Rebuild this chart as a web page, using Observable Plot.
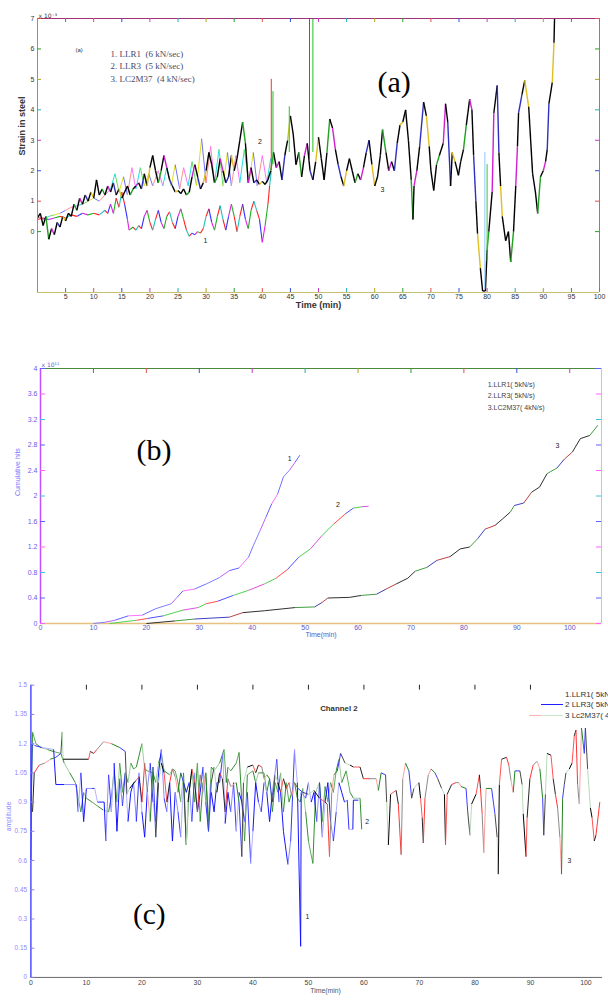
<!DOCTYPE html>
<html><head><meta charset="utf-8">
<script src="https://cdn.jsdelivr.net/npm/d3@7"></script>
<script src="https://cdn.jsdelivr.net/npm/@observablehq/plot@0.6"></script>
<style>
body{margin:0;background:#fff;width:608px;height:1003px;overflow:hidden;position:relative;font-family:'Liberation Sans',Arial,sans-serif;}
.panel{position:absolute;left:0;}
.leg{position:absolute;font-size:8px;color:#333;white-space:nowrap;line-height:10px;}
.leg span.s{display:inline-block;width:22px;height:0;vertical-align:middle;margin-right:2px;}
</style></head><body>
<div id="pa" class="panel" style="top:0"></div>
<div id="pb" class="panel" style="top:330px"></div>
<div id="pc" class="panel" style="top:670px"></div>
<div class="leg" style="left:565px;top:690px">1.LLR1( 5kN/s)</div>
<div class="leg" style="left:541px;top:700px"><span class="s" style="border-top:1px solid #2020ff"></span>2 LLR3( 5kN/s)</div>
<div class="leg" style="left:541px;top:711px"><span class="s" style="border-top:1px solid #c8e8c8;box-shadow:-12px 0 0 -0px #ffb0b0"></span>3 Lc2M37( 4kN/s)</div>
<script>
// ---------------- Panel (a): strain in steel (x 10^-3) vs time (min) ----------------
const aXTicks = [5,10,15,20,25,30,35,40,45,50,55,60,65,70,75,80,85,90,95,100];
const aYTicks = [0,1,2,3,4,5,6,7];
const aDomX = [0,100];
const aDomY = [-2,7];

const strainLLR1 = [[0,0.4],[1,0.45],[2,0.4],[3,0.45],[4,0.5],[5,0.45],[6,0.55],[7,0.5],[8,0.6],[9,0.55],[10,0.6],[11,0.55],[12,0.7],[12.5,0.6],[13,0.9],[13.5,0.6],[14,1.1],[14.5,0.8],[15,1.3],[15.5,0.9],[16,0.4],[16.3,0.05],[17,0.15],[17.5,0.05],[18,0.2],[18.5,0.1],[19,0.5],[19.5,0.7],[20,0.3],[20.5,0.05],[21,0.4],[21.5,0.7],[22,0.3],[22.5,0.1],[23,0.5],[23.5,0.65],[24,0.3],[24.5,0.1],[25,0.5],[25.5,0.75],[26,0.4],[26.5,0.05],[27,-0.15],[27.5,-0.05],[28,-0.1],[28.5,0.0],[29,-0.05],[29.5,0.1],[30,0.5],[30.5,0.75],[31,0.3],[31.5,0.05],[32,0.5],[32.5,0.85],[33,0.4],[33.5,0.05],[34,0.5],[34.5,0.9],[35,0.5],[35.5,0.0],[36,0.5],[36.5,0.9],[37,0.4],[37.5,0.1],[38,0.7],[38.5,1.0],[39,0.7],[39.5,0.4],[40,-0.35],[40.5,0.2],[41,0.9],[41.3,1.5],[41.6,2.0]];
const strainLLR3 = [[0,0.5],[1,0.4],[2,0.5],[3,0.55],[4,0.6],[5,0.7],[6,0.8],[7,0.85],[8,0.9],[9,1.0],[10,1.1],[11,1.0],[12,1.2],[13,1.4],[13.8,1.9],[14.5,1.3],[15.3,1.8],[16,1.2],[16.8,2.1],[17.5,1.4],[18.3,2.1],[19,1.5],[19.8,1.9],[20.5,1.5],[21.5,2.0],[22.3,1.5],[23,2.1],[23.8,1.5],[24.5,2.2],[25.3,1.4],[26,2.1],[26.8,1.5],[27.5,2.3],[28.3,1.5],[29.2,3.05],[30,1.6],[30.8,2.8],[31.5,1.6],[32.3,2.7],[33,1.5],[33.8,2.6],[34.5,1.5],[35.3,2.5],[36,1.6],[36.8,2.7],[37.6,1.6],[38.4,2.6],[39.1,1.5],[40,2.5],[40.8,1.6],[41.5,2.4]];
const strainLC2M37 = [[0,0.45],[0.5,0.6],[1,0.2],[1.5,0.5],[2,-0.25],[2.5,0.1],[3,-0.1],[3.5,0.3],[4,0.15],[4.5,0.5],[5,0.35],[5.5,0.6],[6,0.5],[6.5,0.9],[7,0.7],[7.5,1.1],[8,0.9],[8.5,1.2],[9,1.0],[9.5,1.3],[10,1.1],[10.5,1.7],[11,1.2],[11.5,1.4],[12,1.2],[12.5,1.5],[13,1.3],[13.5,1.6],[14,1.2],[14.5,1.4],[15,1.1],[15.5,1.3],[16,1.5],[16.5,1.2],[17,1.4],[17.5,1.5],[18,1.6],[18.5,1.4],[19,1.9],[19.5,1.5],[20,2.1],[20.5,2.5],[21,2.0],[21.5,1.6],[22,2.0],[22.5,2.5],[23,2.1],[23.5,1.7],[24,1.5],[24.5,1.3],[25,1.35],[25.5,1.25],[26,1.4],[26.5,1.2],[27,1.3],[27.5,1.8],[28,2.2],[28.5,1.8],[29,1.4],[29.5,1.6],[30,2.0],[30.5,2.6],[31,2.2],[31.5,1.6],[32,1.8],[32.5,2.4],[33,2.0],[33.5,1.6],[34,1.8],[34.5,2.5],[35,2.0],[35.5,2.4],[36,3.0],[36.5,3.6],[37,2.9],[37.5,1.6],[38,2.1],[38.5,1.6],[39,1.7],[39.5,1.55],[40,1.65],[40.5,1.55],[41,1.7],[41.5,2.0],[42,2.6],[42.5,2.1],[43,2.3],[43.5,1.7],[44,2.5],[44.5,3.0],[45,3.8],[45.5,3.2],[46,2.2],[46.5,2.6],[47,1.8],[47.5,2.5],[48,2.9],[48.5,2.0],[49,1.7],[49.5,2.3],[50,3.1],[50.5,2.4],[51,1.7],[51.5,2.6],[52,3.7],[52.5,3.4],[53,2.7],[53.5,2.2],[54,1.8],[54.5,1.5],[55,2.0],[55.5,2.4],[56,2.0],[56.5,1.6],[57,1.9],[57.5,1.7],[58,2.1],[58.5,2.6],[59,3.0],[59.5,2.2],[60,1.5],[60.5,1.8],[61,2.5],[61.4,3.35],[62,2.6],[62.5,2.0],[63,2.3],[63.5,2.0],[64,2.9],[64.5,3.5],[65,3.6],[65.5,4.0],[66,3.0],[66.5,1.7],[66.8,0.4],[67,1.5],[67.5,2.0],[68,2.8],[68.7,4.25],[69.2,3.8],[69.7,2.8],[70,2.0],[70.5,1.35],[71,2.2],[71.5,2.5],[72.2,2.9],[72.6,4.2],[73,3.6],[73.5,1.5],[73.8,2.6],[74.3,2.3],[74.9,1.85],[75.3,2.3],[75.8,2.7],[76.3,3.5],[76.9,4.35],[77.3,4.0],[77.6,2.5],[78,1.0],[78.3,-0.07],[78.8,-1.2],[79.2,-1.95],[79.7,-1.95],[80,-0.6],[80.3,0],[80.9,1.3],[81.2,3.9],[81.8,4.8],[82.1,2.6],[82.4,1.5],[82.7,0.5],[83.3,-0.3],[83.8,0],[84.2,-1.0],[84.7,0],[85.1,1.5],[85.4,2.8],[85.6,3.9],[86.2,4.5],[86.7,4.97],[87.4,4.1],[88.1,1.9],[88.6,1.3],[89,0.6],[89.5,1.8],[90,2.0],[90.4,2.3],[90.7,2.7],[91,4.2],[91.6,4.9],[91.9,6.2],[92,7.0]];
const strainSpikes = [
  {t:41.6, from:2.0, to:5.0, c:"#ff3030"},
  {t:41.9, from:2.2, to:4.6, c:"#30c030"},
  {t:44.8, from:2.6, to:4.1, c:"#30c030"},
  {t:48.4, from:2.3, to:7.0, c:"#ff2020"},
  {t:49.0, from:2.6, to:7.0, c:"#20c020"},
  {t:79.6, from:-1.9, to:2.6, c:"#90c8ff"},
  {t:80.0, from:-1.0, to:2.2, c:"#40c040"}
];
const aCurveLabels = [{t:29.9, v:-0.3, s:"1"}, {t:39.6, v:2.95, s:"2"}, {t:61.4, v:1.38, s:"3"}];
const aLegend = [{t:13, v:5.82, s:"1. LLR1\u00a0\u00a0(6 kN/sec)"}, {t:13, v:5.45, s:"2. LLR3\u00a0\u00a0(5 kN/sec)"}, {t:13, v:5.0, s:"3. LC2M37\u00a0\u00a0(4 kN/sec)"}];

// ---------------- Panel (b): cumulative hits (x 10^11) vs time (min) ----------------
const bXTicks = [0,10,20,30,40,50,60,70,80,90,100];
const bYTicks = [0,0.4,0.8,1.2,1.6,2,2.4,2.8,3.2,3.6,4];
const bDomX = [0,106];
const bDomY = [0,4];
const hitsLLR1 = [[10,0],[12.2,0.02],[14,0.05],[16.6,0.12],[19.2,0.13],[21.7,0.23],[24.7,0.31],[25.8,0.41],[26.9,0.51],[29.1,0.54],[31.3,0.62],[33.8,0.72],[35.7,0.83],[37.5,0.87],[39.3,1.04],[40.1,1.2],[41.5,1.46],[42.6,1.67],[43.7,1.88],[44.8,2.03],[45.9,2.3],[47,2.4],[48.1,2.53],[49,2.64]];
const hitsLLR3 = [[13,0],[18.1,0.05],[20.3,0.08],[23.2,0.12],[26.9,0.21],[29.8,0.25],[31.3,0.31],[33.5,0.35],[36.4,0.44],[39.3,0.52],[42.3,0.62],[44.5,0.71],[46.7,0.85],[48.8,1.04],[51,1.17],[53.2,1.38],[55.4,1.56],[57.6,1.72],[59.1,1.81],[60.6,1.83],[62,1.84]];
const hitsLC2M37 = [[20,0],[25.4,0.04],[29.1,0.07],[35.7,0.1],[38.2,0.17],[42.3,0.2],[48.1,0.25],[51.8,0.26],[53.2,0.33],[54.3,0.4],[58.4,0.41],[60.6,0.44],[63.5,0.46],[65.3,0.54],[67.2,0.62],[69.4,0.71],[70.8,0.82],[73,0.88],[74.9,0.99],[77.4,1.05],[79.3,1.17],[81.1,1.2],[82.6,1.33],[84,1.48],[85.9,1.54],[87.3,1.64],[88.8,1.75],[89.5,1.85],[91.3,1.89],[92.8,2.06],[94.3,2.14],[95.7,2.35],[97.6,2.44],[99,2.58],[100.5,2.69],[102,2.9],[103.8,2.95],[105.3,3.11]];
const bCurveLabels = [{t:47.1, v:2.59, s:"1"}, {t:56.2, v:1.87, s:"2"}, {t:97.7, v:2.79, s:"3"}];
const bLegend = [{t:84.5, v:3.75, s:"1.LLR1( 5kN/s)"}, {t:84.5, v:3.58, s:"2.LLR3( 5kN/s)"}, {t:84.5, v:3.39, s:"3.LC2M37( 4kN/s)"}];

// ---------------- Panel (c): amplitude vs time (min), Channel 2 ----------------
const cXTicks = [0,10,20,30,40,50,60,70,80,90,100];
const cTopTicks = [10,20,30,40,50,60,70,80,90];
const cYTicks = [0,0.15,0.3,0.45,0.6,0.75,0.9,1.05,1.2,1.35,1.5];
const cDomX = [0,103];
const cDomY = [0,1.5];
const ampLLR1 = [[0,0.6],[0.2,1.2],[0.7,1.19],[2,1.18],[4.1,1.17],[4.5,0.99],[6,0.99],[8.2,0.99],[8.5,0.85],[9,1.05],[9.5,0.8],[10,0.97],[11,0.97],[11.5,0.97],[12,0.9],[13.2,0.9],[13.5,0.7],[14,1.04],[14.5,0.85],[15,1.1],[15.5,0.75],[16,1.02],[16.5,0.88],[17,1.05],[17.5,0.8],[18,0.95],[18.5,1.0],[19,0.8],[19.5,1.05],[20,0.85],[20.5,0.72],[21,0.97],[21.5,1.1],[22,0.9],[22.5,0.8],[23,1.05],[23.5,1.17],[24,0.92],[24.5,0.85],[25,1.0],[25.5,0.7],[26,0.95],[26.5,0.85],[27,0.72],[27.5,1.0],[28,0.95],[28.5,1.0],[29,0.8],[29.5,1.05],[30,0.85],[30.5,0.95],[31,1.08],[31.5,0.9],[32,0.75],[32.5,0.95],[33,0.85],[33.5,1.0],[34,1.0],[34.6,1.15],[35,0.79],[35.5,0.95],[36,0.85],[36.5,1.0],[37,0.75],[37.5,0.95],[38,0.9],[38.5,0.8],[39,0.95],[39.6,0.585],[40,0.75],[40.5,1.0],[41,0.9],[41.5,0.85],[42,1.0],[42.5,0.95],[43,0.8],[43.5,0.95],[44.3,1.12],[44.7,0.9],[45,0.95],[45.5,0.75],[46.3,0.58],[46.8,0.7],[47.5,1.17],[48,1.0],[48.6,0.16],[48.7,0.95],[49.5,0.92],[50,1.0],[50.5,0.9],[51,0.95],[51.5,0.8],[52,1.0],[52.5,0.72],[53,0.9],[53.5,1.0],[54,0.8],[54.5,0.7],[55,0.85],[55.5,1.0],[56,0.95],[56.5,0.9],[57,0.91],[57.3,0.76],[58,0.76],[58.1,0.91],[59,0.91]];
const ampLLR3 = [[0,0.85],[0.3,1.26],[0.9,1.2],[1.8,1.18],[3,1.17],[4,1.16],[5.4,1.15],[6,1.1],[7,1.05],[8,1.0],[9,0.85],[9.5,0.95],[10,0.92],[11,0.9],[12,0.88],[13,0.86],[14,0.85],[14.5,0.93],[15,1.06],[15.5,0.9],[16,1.1],[16.5,0.95],[17,1.05],[17.5,1.0],[18,1.1],[18.5,1.07],[19,1.08],[20,1.2],[20.5,1.07],[21,1.06],[22,1.05],[22.5,1.0],[23,1.1],[23.5,1.15],[24,1.06],[25,1.04],[25.5,1.07],[26,1.06],[26.5,1.0],[27,0.9],[27.5,1.05],[28,0.68],[28.5,0.95],[29,1.06],[29.5,0.9],[30,1.1],[30.5,0.8],[31,1.0],[31.5,1.05],[32,0.8],[32.5,1.08],[33,1.06],[34,1.1],[34.8,1.17],[35.2,1.0],[35.5,1.08],[36,1.06],[37,1.1],[37.5,1.155],[38,0.9],[38.5,0.7],[39,1.04],[40,1.06],[40.5,1.0],[41,1.05],[42,1.05],[42.5,0.95],[43,1.02],[43.5,0.85],[44,1.0],[44.5,0.95],[45,1.05],[45.5,0.85],[46,1.0],[46.5,0.9],[47,0.95],[47.5,1.0],[48,0.92],[48.5,0.9],[49,0.97],[49.5,0.85],[50,0.7],[50.8,0.585],[51.3,0.95],[52,1.0],[52.5,0.8],[53,0.98],[53.5,0.9],[54,1.0],[54.5,0.95],[55,1.06],[55.5,1.12],[56,1.0],[56.8,1.06],[57.5,0.95],[58.1,0.92],[59.3,0.92],[59.6,0.76]];
const ampLC2M37 = [[0.3,0.85],[0.6,1.05],[1.5,1.09],[2.5,1.1],[3.5,1.12],[4.5,1.13],[5.4,1.15],[5.65,1.26],[5.8,1.12],[10.4,1.12],[10.7,1.16],[11.3,1.15],[11.9,1.17],[13.1,1.21],[14.5,1.2],[16,1.18],[17,1.16],[17.3,0.94],[17.8,0.97],[18.9,1.01],[19.5,1.03],[20,0.9],[20.5,1.1],[21,0.95],[21.5,0.8],[22,1.08],[22.5,0.72],[23,1.0],[23.5,1.1],[24,1.05],[24.5,0.9],[25,1.0],[25.5,1.07],[26,1.03],[26.5,0.95],[27,1.05],[27.5,1.0],[28,0.68],[28.3,0.9],[29,1.07],[29.5,1.0],[30,0.85],[30.5,1.04],[31,0.95],[31.5,1.05],[32,0.75],[32.5,1.0],[33,1.08],[33.5,0.95],[34,1.05],[34.5,1.02],[35,0.85],[35.5,1.02],[36,0.98],[37,1.0],[37.5,0.9],[38,0.62],[38.3,1.0],[39,1.08],[40,1.09],[40.5,1.05],[41,1.09],[41.6,1.08],[42,1.02],[42.5,1.04],[43,1.02],[43.5,0.9],[44,1.04],[44.5,1.0],[45,0.95],[45.5,1.02],[46,0.97],[46.5,1.0],[47,0.93],[47.5,1.0],[48.1,0.97],[49,0.95],[50,0.94],[51,0.96],[52,0.92],[53,0.9],[53.4,0.89],[53.8,0.62],[54.2,0.95],[54.6,1.04],[55.2,1.06],[55.8,1.15],[56.6,1.1],[57.5,1.09],[58.1,1.08],[59.3,1.08],[59.9,1.02],[61.1,1.02],[62.2,1.02],[62.6,0.96],[63.1,1.05],[63.9,1.04],[64.1,0.9],[64.4,0.68],[64.8,0.94],[65.8,0.96],[66.2,0.89],[66.7,0.63],[67,1.02],[67.5,1.1],[68.1,1.06],[68.6,0.92],[69,0.97],[69.9,1.0],[70.2,0.92],[70.5,0.82],[70.7,0.69],[71,0.92],[71.6,1.04],[72.1,1.07],[72.8,1.05],[73.3,1.02],[74,0.97],[74.5,0.94],[74.7,0.68],[75,0.94],[75.8,0.99],[76.6,1.0],[77.1,1.0],[77.5,0.98],[78.4,0.97],[78.7,0.85],[79.1,0.73],[79.4,0.89],[80.2,0.94],[80.8,1.04],[81,0.97],[81.3,0.84],[81.6,0.64],[82,0.97],[83,0.97],[83.6,0.84],[84,0.72],[84.2,0.53],[84.4,0.99],[84.8,1.12],[85.7,1.13],[86.1,1.09],[86.5,1.01],[86.9,0.95],[87.2,1.06],[88.1,1.06],[88.5,0.99],[88.7,0.84],[89.2,0.62],[89.4,0.82],[89.9,1.02],[90.5,1.09],[91.2,1.11],[91.7,1.07],[92.2,0.92],[92.4,0.73],[92.7,0.94],[93,1.15],[93.7,1.14],[94.1,1.02],[94.5,0.94],[94.9,0.87],[95.3,0.72],[95.6,0.53],[95.8,0.92],[96.1,0.99],[96.4,1.05],[97,1.07],[97.5,1.1],[97.9,1.24],[98.2,1.27],[98.5,0.99],[98.8,0.89],[99.2,1.28],[99.7,1.15],[99.9,1.28],[100.3,1.07],[100.8,0.87],[101.1,0.82],[101.5,0.7],[101.8,0.73],[102.5,0.9]];
const cCurveLabels = [{t:49.8, v:0.31, s:"1"}, {t:60.6, v:0.80, s:"2"}, {t:97, v:0.60, s:"3"}];

// ---------------- helpers (styling only) ----------------
const tickPal = ["#2a9d2a","#e05050","#3050d0","#c040c0","#20b0b0","#b0a020"];
function toSegs(pairs, palette, run = 1) {
  const out = [];
  for (let i = 0; i < pairs.length - 1; i++) {
    out.push({x1: pairs[i][0], y1: pairs[i][1], x2: pairs[i+1][0], y2: pairs[i+1][1], c: palette[Math.floor(i / run) % palette.length]});
  }
  return out;
}
const seg = (data, sw) => Plot.link(data, {x1: "x1", y1: "y1", x2: "x2", y2: "y2", stroke: "c", strokeWidth: sw});
const tcol = (d, i) => tickPal[i % tickPal.length];
const plain = d => String(d);

// ---------------- Panel (a) ----------------
{
  const W = 608, H = 318, mL = 37, mR = 9, mT = 18, mB = 26;
  const fW = W - mL - mR, fH = H - mT - mB;
  const chart = Plot.plot({
    width: W, height: H, marginLeft: mL, marginRight: mR, marginTop: mT, marginBottom: mB,
    x: {domain: aDomX, label: null},
    y: {domain: aDomY, label: null},
    color: {type: "identity"},
    style: {fontFamily: "'Liberation Sans', Arial, sans-serif", fontSize: "7px", background: "transparent", overflow: "visible"},
    marks: [
      seg(toSegs(strainLLR3, ["#ff70ff","#20e0e0","#60e060","#e0e020","#7070ff","#ff9090"]), 1),
      seg(toSegs(strainLLR1, ["#ff2020","#3030ff","#e020e0","#20b020","#ff2020","#20c0c0"]), 1.1),
      seg(toSegs(strainLC2M37, ["#000","#000","#000","#20a020","#000","#d020d0","#000","#3030c0","#000","#e0c020"]), 1.4),
      Plot.ruleX(strainSpikes, {x: "t", y1: "from", y2: "to", stroke: "c"}),
      Plot.ruleY([aDomY[1]], {stroke: "#a0307a", strokeWidth: 1.2}),
      Plot.ruleY([aDomY[0]], {stroke: "#c8c070"}),
      Plot.ruleX([aDomX[0]], {stroke: "#909090"}),
      Plot.ruleX([aDomX[1]], {stroke: "#a08050"}),
      Plot.tickX(aXTicks, {x: d => d, insetTop: fH - 4, stroke: tcol}),
      Plot.tickX(aXTicks, {x: d => d, insetBottom: fH - 4, stroke: tcol}),
      Plot.tickY(aYTicks, {y: d => d, insetRight: fW - 4, stroke: tcol}),
      Plot.tickY(aYTicks, {y: d => d, insetLeft: fW - 4, stroke: tcol}),
      Plot.axisX(aXTicks, {anchor: "bottom", tickSize: 0, tickPadding: 2, fontSize: 7, color: "#333", label: null, tickFormat: plain}),
      Plot.axisY(aYTicks, {anchor: "left", tickSize: 0, tickPadding: 3, fontSize: 7, color: "#333", label: null, tickFormat: plain}),
      Plot.text(aCurveLabels, {x: "t", y: "v", text: "s", fontSize: 7, fill: "#222"}),
      Plot.text(aLegend, {x: "t", y: "v", text: "s", textAnchor: "start", fontFamily: "'Liberation Serif', 'Times New Roman', serif", fontSize: 9, fill: "#4a4a66"}),
      Plot.text(["(a)"], {text: d => d, frameAnchor: "top-left", dx: 38, dy: 29, fontSize: 6, fill: "#333"}),
      Plot.text(["(a)"], {text: d => d, frameAnchor: "top-left", dx: 340, dy: 52, fontSize: 30, fontFamily: "'Liberation Serif', 'Times New Roman', serif", fill: "#000"}),
      Plot.text(["x 10\u207B\u00B3"], {text: d => d, frameAnchor: "top-left", dx: 1, dy: -5, textAnchor: "start", fontSize: 6, fill: "#333", fontFamily: "'DejaVu Sans', sans-serif"}),
      Plot.text(["Strain in steel"], {text: d => d, frameAnchor: "left", dx: -15, rotate: -90, fontSize: 9, fontWeight: "bold", fill: "#333"}),
      Plot.text(["Time (min)"], {text: d => d, frameAnchor: "bottom", dy: 15, fontSize: 9, fontWeight: "bold", fill: "#333"})
    ]
  });
  document.getElementById("pa").appendChild(chart);
}

// ---------------- Panel (b) ----------------
{
  const W = 608, H = 320, mL = 40, mR = 7, mT = 38, mB = 27;
  const fW = W - mL - mR, fH = H - mT - mB;
  const chart = Plot.plot({
    width: W, height: H, marginLeft: mL, marginRight: mR, marginTop: mT, marginBottom: mB,
    x: {domain: bDomX, label: null},
    y: {domain: bDomY, label: null},
    color: {type: "identity"},
    style: {fontFamily: "'Liberation Sans', Arial, sans-serif", fontSize: "7px", background: "transparent", overflow: "visible"},
    marks: [
      Plot.ruleY([bDomY[0]], {stroke: "#e8c080", strokeWidth: 1.5}),
      seg(toSegs(hitsLLR3, ["#50d050","#ff5050","#5050ff","#50d050","#e050e0"]), 1),
      seg(toSegs(hitsLLR1, ["#8080ff","#c060ff","#6060ff","#ff70ff","#7070ff"]), 1),
      seg(toSegs(hitsLC2M37, ["#303030","#40a040","#4040c0","#c04040","#303030"]), 1),
      Plot.ruleY([bDomY[1]], {stroke: "#4a8a3a"}),
      Plot.ruleX([bDomX[0]], {stroke: "#c050ff", strokeWidth: 1.5}),
      Plot.ruleX([bDomX[1]], {stroke: "#a8c8ff"}),
      Plot.tickX(bXTicks.slice(1), {x: d => d, insetBottom: fH - 5, stroke: tcol}),
      Plot.tickY(bYTicks, {y: d => d, insetRight: fW - 5, stroke: (d, i) => ["#ff60ff","#6060ff","#40c0e0"][i % 3]}),
      Plot.tickY(bYTicks, {y: d => d, insetLeft: fW - 5, stroke: (d, i) => ["#ff60ff","#6060ff","#40c0e0"][i % 3]}),
      Plot.axisX(bXTicks, {anchor: "bottom", tickSize: 0, tickPadding: 2, fontSize: 7, color: "#5858c8", label: null, tickFormat: plain}),
      Plot.axisY(bYTicks, {anchor: "left", tickSize: 0, tickPadding: 3, fontSize: 7, color: "#6a5ae8", label: null, tickFormat: plain}),
      Plot.text(bCurveLabels, {x: "t", y: "v", text: "s", fontSize: 7, fill: "#222"}),
      Plot.text(bLegend, {x: "t", y: "v", text: "s", textAnchor: "start", fontSize: 7, fill: "#444"}),
      Plot.text(["(b)"], {text: d => d, frameAnchor: "top-left", dx: 96, dy: 70, fontSize: 30, fontFamily: "'Liberation Serif', 'Times New Roman', serif", fill: "#000"}),
      Plot.text(["x 10\u00B9\u00B9"], {text: d => d, frameAnchor: "top-left", dx: 1, dy: -6, textAnchor: "start", fontSize: 6, fill: "#6060d0", fontFamily: "'DejaVu Sans', sans-serif"}),
      Plot.text(["Cumulative hits"], {text: d => d, frameAnchor: "left", dx: -23, rotate: -90, fontSize: 7, fill: "#8070ff"}),
      Plot.text(["Time(min)"], {text: d => d, frameAnchor: "bottom", dy: 13, fontSize: 7, fill: "#5858c8"})
    ]
  });
  document.getElementById("pb").appendChild(chart);
}

// ---------------- Panel (c) ----------------
{
  const W = 620, H = 333, mL = 31, mR = 6, mT = 15, mB = 20;
  const fW = W - mL - mR, fH = H - mT - mB;
  const chart = Plot.plot({
    width: W, height: H, marginLeft: mL, marginRight: mR, marginTop: mT, marginBottom: mB,
    x: {domain: cDomX, label: null},
    y: {domain: cDomY, label: null},
    color: {type: "identity"},
    style: {fontFamily: "'Liberation Sans', Arial, sans-serif", fontSize: "7px", background: "transparent", overflow: "visible"},
    marks: [
      seg(toSegs(ampLLR3, ["#2e8b2e","#5aaa5a","#2e8b2e","#9acc9a"]), 1),
      seg(toSegs(ampLLR1, ["#1010ff","#8a8aff","#3030ff","#b0b0ff","#1010ff"]), 1),
      seg(toSegs(ampLC2M37, ["#222","#ff3030","#888","#ff9c9c","#208020","#3838ff","#444","#b8d8b8","#000","#ff5050"]), 1),
      Plot.ruleY([cDomY[0]], {stroke: "#666"}),
      Plot.ruleX([cDomX[0]], {stroke: "#4a4aff", strokeWidth: 1.5}),
      Plot.tickX(cTopTicks, {x: d => d, insetBottom: fH - 5, stroke: "#222"}),
      Plot.tickY(cYTicks, {y: d => d, insetRight: fW - 4, stroke: "#8080ff"}),
      Plot.axisX(cXTicks, {anchor: "bottom", tickSize: 0, tickPadding: 3, fontSize: 7, color: "#444", label: null, tickFormat: plain}),
      Plot.axisY(cYTicks, {anchor: "left", tickSize: 0, tickPadding: 4, fontSize: 6.5, color: "#8888ff", label: null, tickFormat: plain}),
      Plot.text(cCurveLabels, {x: "t", y: "v", text: "s", fontSize: 7, fill: "#222"}),
      Plot.text(["Channel 2"], {text: d => d, frameAnchor: "top-left", dx: 295, dy: 21, fontSize: 8, fontWeight: "bold", fill: "#333"}),
      Plot.text(["(c)"], {text: d => d, frameAnchor: "top-left", dx: 104, dy: 222, fontSize: 30, fontFamily: "'Liberation Serif', 'Times New Roman', serif", fill: "#000"}),
      Plot.text(["amplitude"], {text: d => d, frameAnchor: "left", dx: -23, rotate: -90, fontSize: 7, fill: "#8888ff"}),
      Plot.text(["Time(min)"], {text: d => d, frameAnchor: "bottom", dx: 9, dy: 16, fontSize: 7, fill: "#555"})
    ]
  });
  document.getElementById("pc").appendChild(chart);
}
</script>
</body></html>
